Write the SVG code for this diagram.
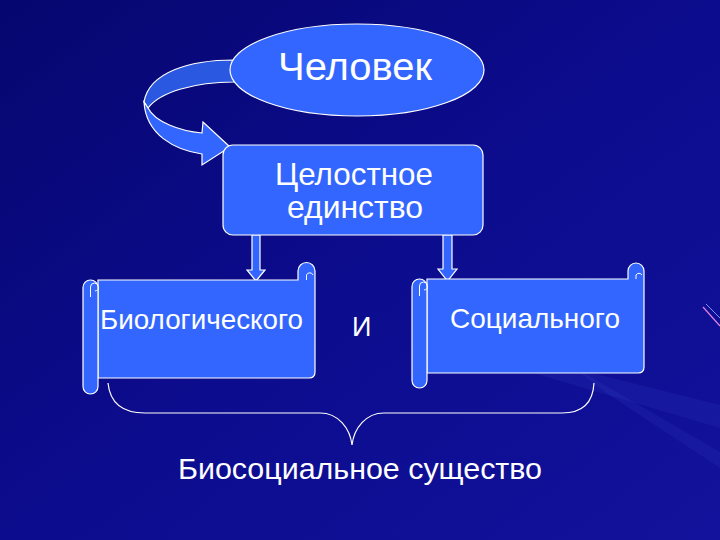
<svg xmlns="http://www.w3.org/2000/svg" width="720" height="540" viewBox="0 0 720 540">
  <defs>
    <linearGradient id="bg" x1="0" y1="0" x2="1" y2="1">
      <stop offset="0" stop-color="#06066f"/>
      <stop offset="0.5" stop-color="#0c0c8e"/>
      <stop offset="1" stop-color="#12129c"/>
    </linearGradient>
    <style>
      .shape { fill: #3366ff; stroke: #ffffff; stroke-width: 1.2; }
      .back { fill: #2a58e0; stroke: #ffffff; stroke-width: 1.2; }
      .curl { fill: none; stroke: #ffffff; stroke-width: 1; }
      .brace { fill: none; stroke: #ffffff; stroke-width: 1.2; }
      .streak { fill: #6a80ff; opacity: 0.08; }
      text { font-family: "Liberation Sans", Arial, sans-serif; fill: #ffffff; }
    </style>
  </defs>

  <rect width="720" height="540" fill="url(#bg)"/>
  <g id="background-streaks">
    <polygon class="streak" points="480,345 720,405 720,428 530,372"/>
    <polygon class="streak" points="570,365 720,452 720,468 605,392"/>
    <line x1="703" y1="307" x2="720" y2="326" stroke="#e080e0" stroke-width="1.2"/>
    <line x1="706" y1="304" x2="720" y2="318" stroke="#8090ff" stroke-width="1"/>
  </g>

  <g id="connectors">
    <path class="back" d="M 234,60 C 190,60 149,72 144,102 L 148,108 C 160,92 195,82 234,82 Z"/>
    <path class="shape" d="M 144,102 C 146,135 175,150 202,154 L 202,165 L 230,147 L 203,122 L 202,133 C 180,131 155,122 148,108 Z"/>
    <polygon class="shape" points="252,235 260,235 260,270 265,270 256,281 247,270 252,270"/>
    <polygon class="shape" points="443,235 452,235 452,269 457,269 447.5,281 438,269 443,269"/>
    <path class="brace" d="M 108,383 C 110,403 122,413 145,413 H 320 C 338,413 350,428 352,445 C 354,428 366,413 384,413 H 562 C 582,413 593,403 594,383"/>
  </g>

  <g id="node-chelovek">
    <ellipse class="shape" cx="357" cy="70" rx="127" ry="46"/>
    <text x="278" y="80" font-size="38" textLength="154" lengthAdjust="spacingAndGlyphs">Человек</text>
  </g>

  <g id="node-edinstvo">
    <rect class="shape" x="223" y="145" width="260" height="90" rx="10"/>
    <text x="275" y="185" font-size="32" textLength="158" lengthAdjust="spacingAndGlyphs">Целостное</text>
    <text x="287" y="218" font-size="32" textLength="136" lengthAdjust="spacingAndGlyphs">единство</text>
  </g>

  <g id="node-bio">
    <path class="shape" d="M 98,280 H 298 V 271 A 8.5 8.5 0 0 1 315 271 V 372 Q 315 378 309 378 H 98 Z"/>
    <path class="curl" d="M 306.5,280 V 275 A 3.5 3.5 0 0 1 313 275"/>
    <rect class="shape" x="83" y="280" width="15" height="114" rx="7.5"/>
    <path class="curl" d="M 90.5,297 V 287 A 4 4 0 1 1 95 291"/>
    <text x="100" y="329" font-size="28" textLength="203" lengthAdjust="spacingAndGlyphs">Биологического</text>
  </g>

  <g id="node-i">
    <text x="352" y="336" font-size="27">И</text>
  </g>

  <g id="node-soc">
    <path class="shape" d="M 427,279 H 628 V 271 A 8 8 0 0 1 644 271 V 367 Q 644 373 638 373 H 427 Z"/>
    <path class="curl" d="M 636,279 V 275 A 3.5 3.5 0 0 1 642 275"/>
    <rect class="shape" x="412" y="279" width="15" height="109" rx="7.5"/>
    <path class="curl" d="M 419.5,296 V 286 A 4 4 0 1 1 424 290"/>
    <text x="450" y="328" font-size="28" textLength="170" lengthAdjust="spacingAndGlyphs">Социального</text>
  </g>

  <g id="label-biosocial">
    <text x="178" y="479" font-size="30" textLength="364" lengthAdjust="spacingAndGlyphs">Биосоциальное существо</text>
  </g>
</svg>
